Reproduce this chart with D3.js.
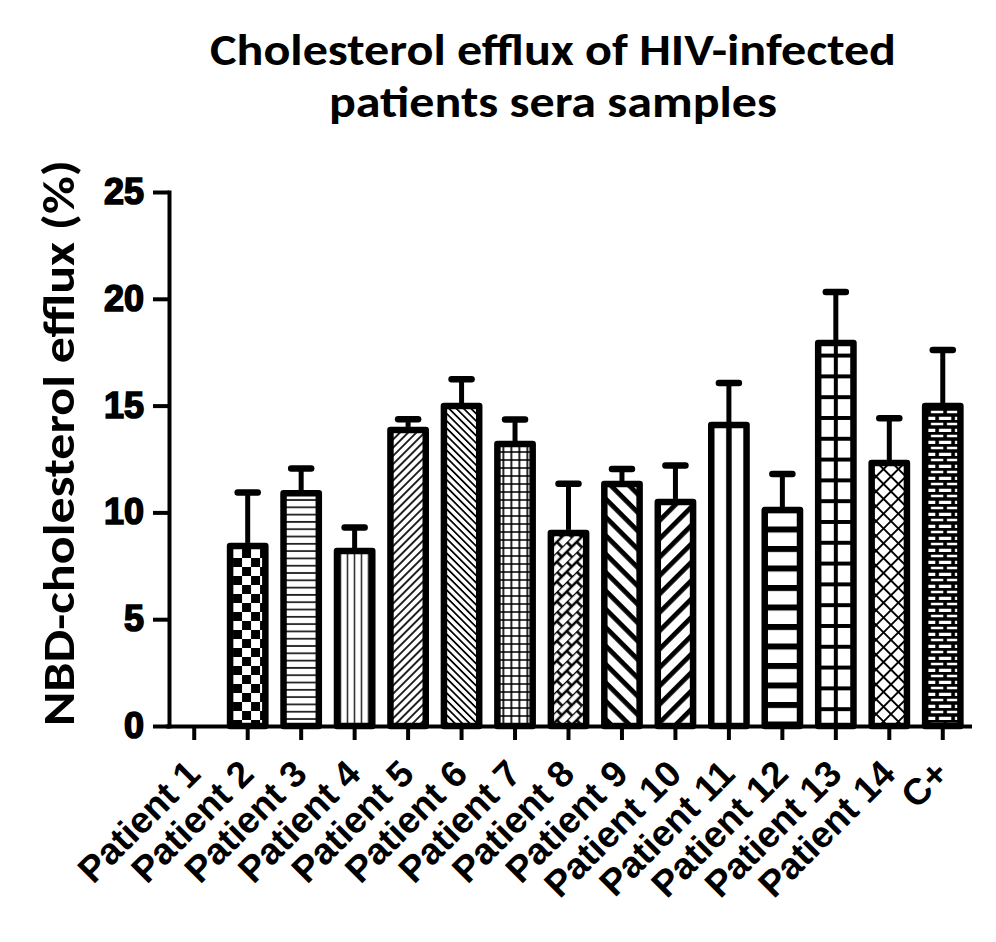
<!DOCTYPE html>
<html>
<head>
<meta charset="utf-8">
<script src="https://cdn.jsdelivr.net/npm/d3@7/dist/d3.min.js"></script>
<style>
    body { margin: 0; background: #fff; }
    .title, .ylabel { font-family: Carlito, "Open Sans", sans-serif; font-weight: bold; fill: #000; }
    .y.axis text { font-family: "Liberation Sans", Arial, sans-serif; font-weight: bold; font-size: 36px; fill: #000; stroke: #000; stroke-width: 1.6px; }
    .x.axis text { font-family: "Liberation Sans", Arial, sans-serif; font-weight: bold; font-size: 37px; fill: #000; }
    .axis path, .axis line { stroke: #000; stroke-width: 4px; }
    .bar { stroke: #000; stroke-width: 6.5px; stroke-linejoin: round; }
    .err { stroke: #000; stroke-width: 5px; }
    .cap { stroke: #000; stroke-width: 6.5px; stroke-linecap: round; }
</style>
</head>
<body>
<div id="chart"></div>
<script>
// Cholesterol efflux (NBD-cholesterol) per patient serum, mean + SD

var categories = ["Patient 1", "Patient 2", "Patient 3", "Patient 4", "Patient 5",
                  "Patient 6", "Patient 7", "Patient 8", "Patient 9", "Patient 10",
                  "Patient 11", "Patient 12", "Patient 13", "Patient 14", "C+"];
var meanValues = [0, 8.43, 10.9, 8.19, 13.86, 14.98, 13.2, 9.04, 11.33, 10.49, 14.09, 10.11, 17.93, 12.31, 14.98];
var errValues  = [0, 2.5, 1.15, 1.1, 0.5, 1.25, 1.15, 2.3, 0.7, 1.7, 1.97, 1.69, 2.39, 2.1, 2.62];
var yTicks = [0, 5, 10, 15, 20, 25];
var titleLines = ["Cholesterol efflux of HIV-infected", "patients sera samples"];
var yTitle = "NBD-cholesterol efflux (%)";
// one hatch style per bar, same order as categories
var hatchNames = ["none", "checker", "hlines", "vlines", "diagUp", "diagDown", "fineGrid", "weave",
                  "wideDown", "wideUp", "centerLine", "thickH", "bigGrid", "diamonds", "brick"];

var pt = {};
pt.width = 996;
pt.height = 942;

pt.svg = d3.select("#chart")
    .append("svg")
    .attr("width", pt.width)
    .attr("height", pt.height);

// Scales
pt.y = d3.scaleLinear()
    .domain([0, 25])
    .range([726, 192]);

pt.x = d3.scaleBand()
    .domain(categories)
    .range([167.5, 969.5])
    .paddingInner(0.34)
    .paddingOuter(0.17);

var bw = pt.x.bandwidth();
var step = pt.x.step();

// ---- Hatch patterns ----
var defs = pt.svg.append("defs");

function pattern(id, w, h, rot, xOff) {
    var p = defs.append("pattern")
        .attr("id", id)
        .attr("patternUnits", "userSpaceOnUse")
        .attr("width", w)
        .attr("height", h)
        .attr("x", xOff || 0)
        .attr("y", 0);
    if (rot) { p.attr("patternTransform", "rotate(" + rot + ")"); }
    p.append("rect").attr("width", w).attr("height", h).attr("fill", "#fff");
    return p;
}

// checkerboard
var pc = pattern("checker", 18, 18, 0, pt.x("Patient 2") + 3);
pc.append("rect").attr("x", 0).attr("y", 0).attr("width", 9).attr("height", 9).attr("fill", "#000");
pc.append("rect").attr("x", 9).attr("y", 9).attr("width", 9).attr("height", 9).attr("fill", "#000");

// thin horizontal
pattern("hlines", 8, 7.3).append("line")
    .attr("x1", 0).attr("x2", 8).attr("y1", 3.6).attr("y2", 3.6)
    .attr("stroke", "#222").attr("stroke-width", 1.8);

// thin vertical
pattern("vlines", 7, 7, 0, pt.x("Patient 4")).append("line")
    .attr("x1", 3.5).attr("x2", 3.5).attr("y1", 0).attr("y2", 7)
    .attr("stroke", "#333").attr("stroke-width", 1.6);

// thin diagonals
pattern("diagUp", 10, 5.8, -45).append("line")
    .attr("x1", 0).attr("x2", 10).attr("y1", 2.9).attr("y2", 2.9)
    .attr("stroke", "#000").attr("stroke-width", 1.7);
pattern("diagDown", 10, 5.2, 45).append("line")
    .attr("x1", 0).attr("x2", 10).attr("y1", 2.6).attr("y2", 2.6)
    .attr("stroke", "#000").attr("stroke-width", 1.7);

// fine grid
var pg = pattern("fineGrid", 8, 8, 0, pt.x("Patient 7") + 2);
pg.append("path").attr("d", "M0,4H8M4,0V8")
    .attr("stroke", "#000").attr("stroke-width", 1.7).attr("fill", "none");

// woven brick, rotated
var pw = pattern("weave", 14, 14, -45);
pw.append("path").attr("d", "M0,0H14M0,7H14M3.5,0V7M10.5,7V14")
    .attr("stroke", "#000").attr("stroke-width", 2.6).attr("fill", "none");

// wide diagonals
pattern("wideDown", 14, 13, 45).append("rect")
    .attr("x", 0).attr("y", 0).attr("width", 14).attr("height", 4.8).attr("fill", "#000");
pattern("wideUp", 14, 13, -45).append("rect")
    .attr("x", 0).attr("y", 0).attr("width", 14).attr("height", 4.8).attr("fill", "#000");

// single centre line
pattern("centerLine", step, 20, 0, pt.x("Patient 11") + bw / 2 - step / 2).append("line")
    .attr("x1", step / 2).attr("x2", step / 2).attr("y1", 0).attr("y2", 20)
    .attr("stroke", "#000").attr("stroke-width", 5.5);

// thick horizontal
pattern("thickH", 10, 19.5).append("rect")
    .attr("x", 0).attr("y", 0).attr("width", 10).attr("height", 6).attr("fill", "#000");

// big grid
var pb = pattern("bigGrid", step, 20.8, 0, pt.x("Patient 13") + bw / 2 - step / 2);
pb.append("path").attr("d", "M0,2H" + step + "M" + (step / 2) + ",0V20.8")
    .attr("stroke", "#000").attr("stroke-width", 4).attr("fill", "none");

// diamonds
var pd = pattern("diamonds", 10.5, 10.5, 45);
pd.append("path").attr("d", "M0,0H10.5M0,0V10.5")
    .attr("stroke", "#000").attr("stroke-width", 3.8).attr("fill", "none");

// brick
var pr = pattern("brick", 16, 12, 0, pt.x("C+"));
pr.append("path").attr("d", "M0,1H16M0,7H16M4,1V7M12,7V13")
    .attr("stroke", "#000").attr("stroke-width", 3.6).attr("fill", "none");

// ---- Chart ----
pt.chartGroup = pt.svg.append("g");

var data = categories.map(function (c, i) {
    return { cat: c, mean: meanValues[i], err: errValues[i], hatch: hatchNames[i] };
});
var shown = data.filter(function (d) { return d.mean > 0; });

pt.chartGroup.selectAll(".bar")
    .data(shown)
    .enter()
    .append("rect")
    .attr("class", "bar")
    .attr("x", function (d) { return pt.x(d.cat); })
    .attr("y", function (d) { return pt.y(d.mean); })
    .attr("width", bw)
    .attr("height", function (d) { return pt.y(0) - pt.y(d.mean); })
    .attr("fill", function (d) { return "url(#" + d.hatch + ")"; });

// Error bars (upper only)
pt.chartGroup.selectAll(".err")
    .data(shown)
    .enter()
    .append("line")
    .attr("class", "err")
    .attr("x1", function (d) { return pt.x(d.cat) + bw / 2; })
    .attr("x2", function (d) { return pt.x(d.cat) + bw / 2; })
    .attr("y1", function (d) { return pt.y(d.mean) - 3; })
    .attr("y2", function (d) { return pt.y(d.mean + d.err); });

pt.chartGroup.selectAll(".cap")
    .data(shown)
    .enter()
    .append("line")
    .attr("class", "cap")
    .attr("x1", function (d) { return pt.x(d.cat) + bw / 2 - 10; })
    .attr("x2", function (d) { return pt.x(d.cat) + bw / 2 + 10; })
    .attr("y1", function (d) { return pt.y(d.mean + d.err); })
    .attr("y2", function (d) { return pt.y(d.mean + d.err); });

// Axes
pt.chartGroup.append("g")
    .attr("class", "x axis")
    .attr("transform", "translate(0," + pt.y(0) + ")")
    .call(d3.axisBottom(pt.x).tickSize(14).tickSizeOuter(0))
    .selectAll(".tick text")
    .attr("x", 0)
    .attr("y", 0)
    .attr("dy", 0)
    .attr("text-anchor", "end")
    .attr("transform", "translate(8,50) rotate(-45)");

pt.chartGroup.append("g")
    .attr("class", "y axis")
    .attr("transform", "translate(169,0)")
    .call(d3.axisLeft(pt.y).tickValues(yTicks).tickSize(16).tickSizeOuter(0).tickPadding(9));

pt.svg.selectAll(".axis .domain").attr("stroke-linecap", "square");

// Titles
pt.svg.selectAll(".title")
    .data(titleLines)
    .enter()
    .append("text")
    .attr("class", "title")
    .attr("x", 553)
    .attr("y", function (d, i) { return 65 + i * 52; })
    .attr("text-anchor", "middle")
    .attr("font-size", 45)
    .attr("textLength", function (d, i) { return i === 0 ? 686 : 448; })
    .attr("lengthAdjust", "spacingAndGlyphs")
    .text(function (d) { return d; });

pt.svg.append("text")
    .attr("class", "ylabel")
    .attr("transform", "translate(74,443) rotate(-90)")
    .attr("text-anchor", "middle")
    .attr("font-size", 45)
    .attr("textLength", 566)
    .attr("lengthAdjust", "spacingAndGlyphs")
    .text(yTitle);
</script>
</body>
</html>
